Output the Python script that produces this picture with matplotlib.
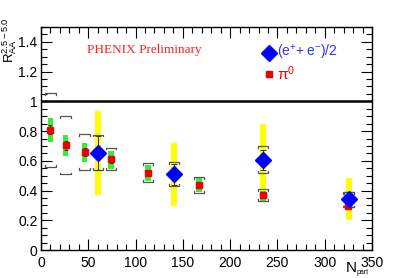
import matplotlib
matplotlib.use('Agg')
import matplotlib.pyplot as plt
from matplotlib.ticker import MultipleLocator
import numpy as np

# ========== DATA ==========
# pi0 points
pi_npart = [10, 26, 46, 74, 113, 167, 235, 325]
pi_raa   = [0.81, 0.705, 0.66, 0.61, 0.52, 0.44, 0.367, 0.295]
pi_stat  = [0.03, 0.03, 0.025, 0.025, 0.02, 0.02, 0.015, 0.015]
pi_green_lo = [0.727, 0.631, 0.593, 0.548, 0.465, 0.392, 0.33, 0.27]
pi_green_hi = [0.888, 0.772, 0.723, 0.667, 0.575, 0.481, 0.40, 0.32]
pi_brk_lo = [0.559, 0.508, 0.541, 0.537, 0.458, 0.385, 0.33, 0.286]
pi_brk_hi = [1.056, 0.899, 0.781, 0.689, 0.582, 0.49, 0.41, 0.39]

# (e+ + e-)/2 points
e_npart = [60.5, 140.5, 235, 325.5]
e_raa   = [0.653, 0.51, 0.604, 0.342]
e_stat_lo = [0.54, 0.44, 0.541, 0.30]
e_stat_hi = [0.77, 0.58, 0.676, 0.38]
e_yel_lo = [0.369, 0.295, 0.36, 0.201]
e_yel_hi = [0.933, 0.72, 0.846, 0.481]
e_brk_lo = [0.541, 0.432, 0.52, 0.286]
e_brk_hi = [0.776, 0.589, 0.70, 0.39]

plt.rcParams['font.family'] = ['Liberation Sans', 'DejaVu Sans']
plt.rcParams['mathtext.fontset'] = 'custom'
plt.rcParams['mathtext.rm'] = 'Liberation Sans'
plt.rcParams['mathtext.it'] = 'Liberation Sans'

fig = plt.figure(figsize=(4.14, 2.78), dpi=100)
ax = fig.add_axes([41/414, 1 - 250/278, 331/414, 223/278])


def brackets(x, lo, hi, hw=5.5, tk=0.012):
    for xi, l, h in zip(x, lo, hi):
        ax.plot([xi - hw, xi - hw, xi + hw, xi + hw], [h - tk, h, h, h - tk],
                color='#555555', lw=0.9, zorder=4)
        ax.plot([xi - hw, xi - hw, xi + hw, xi + hw], [l + tk, l, l, l + tk],
                color='#555555', lw=0.9, zorder=4)


# yellow bands for electrons
ax.bar(e_npart, np.array(e_yel_hi) - np.array(e_yel_lo), bottom=e_yel_lo,
       width=6, color='#ffff00', edgecolor='none', zorder=1)
# green bands for pi0
ax.bar(pi_npart, np.array(pi_green_hi) - np.array(pi_green_lo), bottom=pi_green_lo,
       width=6, color='#33ee33', edgecolor='none', zorder=2)

brackets(pi_npart, pi_brk_lo, pi_brk_hi)
brackets(e_npart, e_brk_lo, e_brk_hi)

ax.errorbar(pi_npart, pi_raa, yerr=pi_stat, fmt='s', color='#ee0000', ms=4,
            ecolor='#333333', elinewidth=0.7, capsize=1.5, capthick=0.7, zorder=5)
e_raa_a = np.array(e_raa)
ax.errorbar(e_npart, e_raa, yerr=[e_raa_a - e_stat_lo, np.array(e_stat_hi) - e_raa_a],
            fmt='none', ecolor='#333333', elinewidth=0.7, capsize=2, capthick=0.7, zorder=5)
ax.plot(e_npart, e_raa, 'D', color='#0000ff', ms=8, zorder=6)

ax.axhline(1.0, color='black', lw=1.8, zorder=3)

ax.set_xlim(0, 350)
ax.set_ylim(0, 1.5)
ax.xaxis.set_major_locator(MultipleLocator(50))
ax.xaxis.set_minor_locator(MultipleLocator(10))
ax.yaxis.set_minor_locator(MultipleLocator(0.05))
ax.set_yticks([0, 0.2, 0.4, 0.6, 0.8, 1.0, 1.2, 1.4])
ax.set_yticklabels(['0', '0.2', '0.4', '0.6', '0.8', '1', '1.2', '1.4'])
ax.tick_params(which='both', direction='in', top=True, right=True, labelsize=10)
ax.tick_params(axis='x', pad=4)
ax.tick_params(axis='y', pad=2.5)
ax.tick_params(which='major', length=8, width=0.8)
ax.tick_params(which='minor', length=4, width=0.8)
for s in ax.spines.values():
    s.set_linewidth(1.0)

ax.text(0.14, 0.925, 'PHENIX Preliminary', transform=ax.transAxes, color='#ff2020',
        fontsize=9.5, family='Liberation Serif', va='top')

# legend
ax.plot([0.69], [0.885], 'D', color='#0000ff', ms=8, transform=ax.transAxes, clip_on=False)
ax.text(0.712, 0.885, r'$\mathrm{(e^{+}\!+e^{-})/2}$', transform=ax.transAxes, color='#3333ff',
        fontsize=10, va='center')
ax.plot([0.69], [0.79], 's', color='#ee0000', ms=4, transform=ax.transAxes, clip_on=False)
ax.text(0.712, 0.79, r'$\mathrm{\pi^{0}}$', transform=ax.transAxes, color='#ee0000',
        fontsize=11, va='center')

fig.text(0.5/414, 1 - 40/278, r'$\mathrm{R_{AA}^{2.5-5.0}}$', rotation=90,
         fontsize=9.5, ha='left', va='center')
fig.text(346/414, 1 - 268/278, 'N', fontsize=11, ha='left', va='center')
fig.text(357/414, 1 - 273/278, 'part', fontsize=5, ha='left', va='center')

plt.savefig('out.png', dpi=100)
